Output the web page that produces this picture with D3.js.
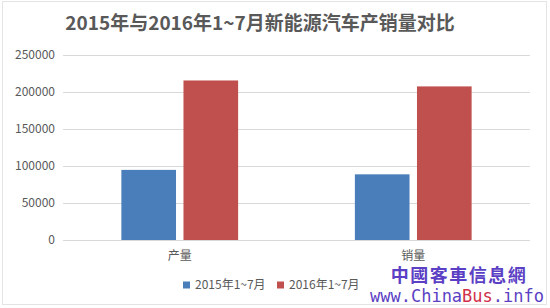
<!DOCTYPE html>
<html><head><meta charset="utf-8">
<script src="https://cdn.jsdelivr.net/npm/d3@7"></script>
<style>body{margin:0;background:#fff}svg{display:block}</style>
</head><body>
<svg id="c" width="550" height="308"></svg>
<script>
const title = "2015年与2016年1~7月新能源汽车产销量对比";
const categories = ["产量", "销量"];
const seriesNames = ["2015年1~7月", "2016年1~7月"];
const values2015 = [94500, 88500];
const values2016 = [215000, 207000];
const yTicks = [0, 50000, 100000, 150000, 200000, 250000];
const colors = ["#4a7ebb", "#c0504d"];

(function () {
const svg = d3.select("#c");
const font = "'Noto Sans CJK SC','Noto Sans',sans-serif";
// frame
svg.append("rect").attr("x",2.5).attr("y",1.5).attr("width",544).attr("height",303)
  .attr("fill","#fff").attr("stroke","#e4e4e4").attr("stroke-width",1);

const mL = 63, mR = 530, mT = 54.5, mB = 240;
const y = d3.scaleLinear().domain([0, 250000]).range([mB, mT]);
const x0 = d3.scaleBand().domain(categories).range([mL, mR]).paddingInner(0.5).paddingOuter(0.25);
const x1 = d3.scaleBand().domain(seriesNames).range([0, x0.bandwidth()]).paddingInner(0.12);

// grid
svg.append("g").selectAll("line").data(yTicks).join("line")
  .attr("x1", mL).attr("x2", mR)
  .attr("y1", d => Math.round(y(d)) + 0.5).attr("y2", d => Math.round(y(d)) + 0.5)
  .attr("stroke", "#d9d9d9").attr("stroke-width", 1);

// y axis labels
const yAxis = d3.axisLeft(y).tickValues(yTicks).tickSize(0).tickPadding(8).tickFormat(d3.format("d"));
const ga = svg.append("g").attr("transform", `translate(${mL},0)`).call(yAxis);
ga.select(".domain").remove();
ga.selectAll("text").attr("fill", "#595959").style("font-family", font).style("font-size", "12px");

// bars
const data = categories.map((c, i) => ({cat: c, vals: [values2015[i], values2016[i]]}));
const groups = svg.append("g").selectAll("g").data(data).join("g")
  .attr("transform", d => `translate(${x0(d.cat)},0)`);
groups.selectAll("rect").data(d => d.vals.map((v, j) => ({name: seriesNames[j], v, j}))).join("rect")
  .attr("x", d => x1(d.name)).attr("width", x1.bandwidth())
  .attr("y", d => y(d.v)).attr("height", d => y(0) - y(d.v))
  .attr("fill", d => colors[d.j]);

// x labels
const xAxis = d3.axisBottom(x0).tickSize(0).tickPadding(11);
const gx = svg.append("g").attr("transform", `translate(0,${mB})`).call(xAxis);
gx.select(".domain").remove();
gx.selectAll("text").attr("fill", "#595959").style("font-family", font).style("font-size", "12px");

// title
svg.append("text").attr("x", 260).attr("y", 30).attr("text-anchor", "middle")
  .attr("fill", "#595959").style("font-family", font).style("font-size", "19px").style("font-weight", "bold")
  .text(title);

// legend
const legX = [183, 277];
const lg = svg.append("g").selectAll("g").data(seriesNames).join("g")
  .attr("transform", (d, i) => `translate(${legX[i]},285)`);
lg.append("rect").attr("x", 0).attr("y", -3.5).attr("width", 7).attr("height", 7).attr("fill", (d, i) => colors[i]);
lg.append("text").attr("x", 12).attr("y", 4).attr("fill", "#595959")
  .style("font-family", font).style("font-size", "12px").text(d => d);

// watermark
const wm = svg.append("g");
wm.append("text").attr("x", 459).attr("y", 282).attr("text-anchor", "middle")
  .attr("fill", "#5b3fc4").attr("stroke", "#fff").attr("stroke-width", 2).attr("paint-order", "stroke")
  .style("font-family", "'Noto Sans CJK TC',sans-serif").style("font-size", "18px").style("font-weight", "bold").style("letter-spacing", "1.5px")
  .text("中國客車信息網");
const wt = wm.append("text").attr("x", 457).attr("y", 302).attr("text-anchor", "middle")
  .attr("stroke", "#fff").attr("stroke-width", 2).attr("paint-order", "stroke")
  .style("font-family", "'DejaVu Sans Mono',monospace").style("font-size", "17px").attr("fill", "#5b3fc4");
wt.append("tspan").text("www.China");
wt.append("tspan").attr("fill", "#d0304a").text("Bus");
wt.append("tspan").text(".info");
})();
</script>
</body></html>
